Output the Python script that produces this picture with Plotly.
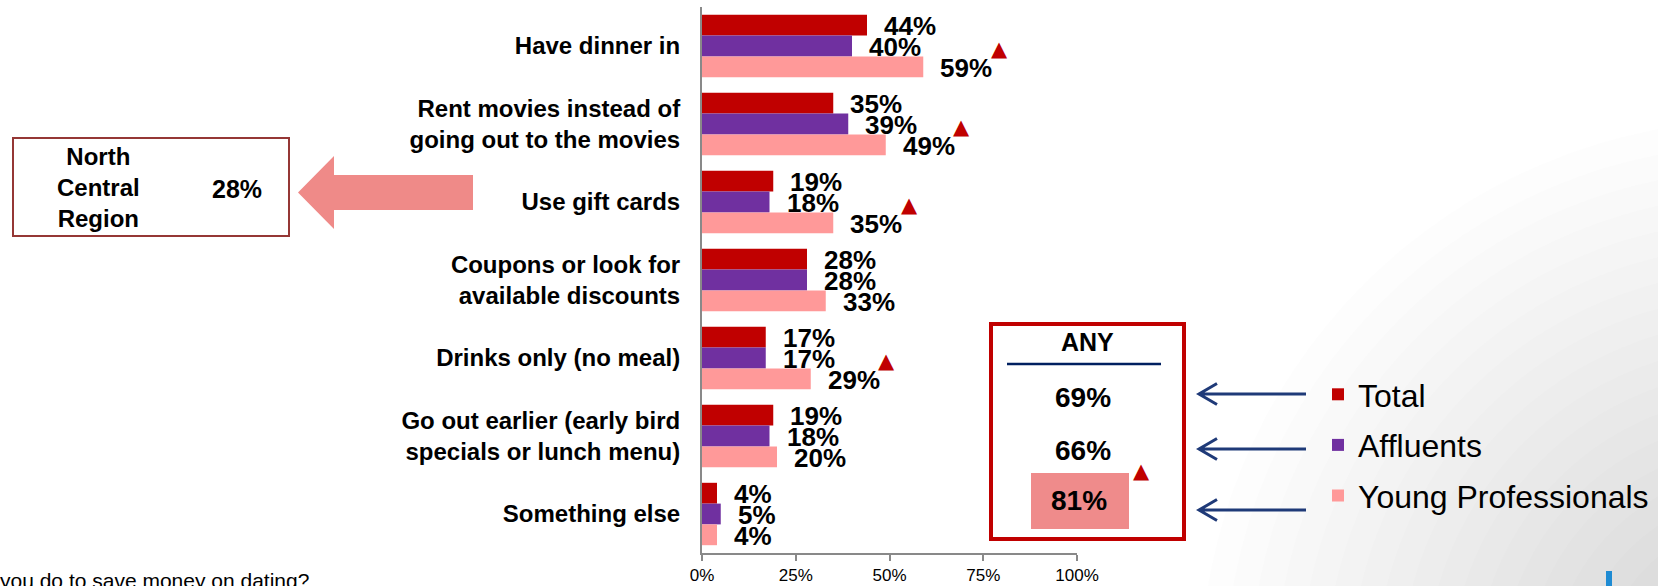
import plotly.graph_objects as go

# ---------------- data ----------------
categories = [
    "Have dinner in",
    "Rent movies instead of<br>going out to the movies",
    "Use gift cards",
    "Coupons or look for<br>available discounts",
    "Drinks only (no meal)",
    "Go out earlier (early bird<br>specials or lunch menu)",
    "Something else",
]
series_names = ["Total", "Affluents", "Young Professionals"]
total = [44, 35, 19, 28, 17, 19, 4]
affluents = [40, 39, 18, 28, 17, 18, 5]
young_prof = [59, 49, 35, 33, 29, 20, 4]
yp_significant = [True, True, True, False, True, False, False]

any_title = "ANY"
any_values = [69, 66, 81]
any_significant = [False, False, True]

region_label = "North<br>Central<br>Region"
region_value = 28

x_ticks = [0, 25, 50, 75, 100]
x_tick_labels = ["0%", "25%", "50%", "75%", "100%"]
footnote = "you do to save money on dating?"

colors = ["#C00000", "#7030A0", "#FF9999"]

# ---------------- layout geometry ----------------
W, H = 1658, 586
L, R, T, B = 702, 1077, 7, 553
BARGAP = 0.2
FONT = "Liberation Sans, Arial, sans-serif"


def px(x):
    return (x - L) / (R - L)


def py(y):
    return (B - y) / (B - T)


series = [total, affluents, young_prof]
fig = go.Figure()
for name, vals, col in zip(series_names, series, colors):
    fig.add_trace(go.Bar(
        y=categories, x=vals, name=name, orientation="h",
        marker=dict(color=col, line=dict(width=0)),
        legendgroup=name, hoverinfo="skip",
    ))

annotations = []
shapes = []

# data labels
cat_px = (B - T) / len(categories)
bar_px = cat_px * (1 - BARGAP) / len(series)
for i, vals in enumerate(series):
    for j, v in enumerate(vals):
        annotations.append(dict(
            x=v, y=categories[j], xref="x", yref="y", text=f"{v}%",
            showarrow=False, xanchor="left", yanchor="middle",
            xshift=15, yshift=(1 - i) * bar_px - 1,
            font=dict(family=FONT, size=26, color="#000000", weight="bold"),
        ))

# significance triangles
for j, (v, s) in enumerate(zip(young_prof, yp_significant)):
    if s:
        annotations.append(dict(
            x=v, y=categories[j], xref="x", yref="y", text="▲",
            showarrow=False, xanchor="center", yanchor="middle",
            xshift=76, yshift=-3,
            font=dict(family="DejaVu Sans", size=21, color="#C00000"),
        ))

# ---------- North Central Region callout ----------
shapes.append(dict(type="rect", xref="paper", yref="paper",
                   x0=px(13), x1=px(289), y0=py(236), y1=py(138),
                   line=dict(color="#953735", width=2), fillcolor="rgba(0,0,0,0)"))
annotations.append(dict(x=px(98), y=py(187), xref="paper", yref="paper",
                        text=region_label, showarrow=False, align="center",
                        xanchor="center", yanchor="middle",
                        font=dict(family=FONT, size=24, color="#000", weight="bold")))
annotations.append(dict(x=px(237), y=py(189), xref="paper", yref="paper",
                        text=f"{region_value}%", showarrow=False,
                        xanchor="center", yanchor="middle",
                        font=dict(family=FONT, size=25, color="#000", weight="bold")))
arrow_pts = [(298, 192.5), (334, 156), (334, 175), (473, 175),
             (473, 210), (334, 210), (334, 229)]
path = "M" + " L".join(f"{px(x):.5f},{py(y):.5f}" for x, y in arrow_pts) + " Z"
shapes.append(dict(type="path", xref="paper", yref="paper", path=path,
                   fillcolor="#EF8A88", line=dict(width=0)))

# ---------- ANY box ----------
shapes.append(dict(type="rect", xref="paper", yref="paper",
                   x0=px(991), x1=px(1184), y0=py(539), y1=py(324),
                   line=dict(color="#C00000", width=4), fillcolor="rgba(0,0,0,0)"))
shapes.append(dict(type="line", xref="paper", yref="paper",
                   x0=px(1007), x1=px(1161), y0=py(364), y1=py(364),
                   line=dict(color="#002060", width=2.5)))
shapes.append(dict(type="rect", xref="paper", yref="paper",
                   x0=px(1031), x1=px(1129), y0=py(529), y1=py(473),
                   fillcolor="#EF8B8B", line=dict(width=0)))
annotations.append(dict(x=px(1087), y=py(342), xref="paper", yref="paper",
                        text=any_title, showarrow=False,
                        xanchor="center", yanchor="middle",
                        font=dict(family=FONT, size=25, color="#000", weight="bold")))
any_y = [397, 450, 500]
any_x = [1083, 1083, 1079]
for v, yy, xx, s in zip(any_values, any_y, any_x, any_significant):
    annotations.append(dict(x=px(xx), y=py(yy), xref="paper", yref="paper",
                            text=f"{v}%", showarrow=False,
                            xanchor="center", yanchor="middle",
                            font=dict(family=FONT, size=28, color="#000", weight="bold")))
    if s:
        annotations.append(dict(x=px(1141), y=py(yy - 29), xref="paper", yref="paper",
                                text="▲", showarrow=False,
                                xanchor="center", yanchor="middle",
                                font=dict(family="DejaVu Sans", size=21, color="#C00000")))

# navy arrows pointing to the ANY values
for yy in [394, 449, 510]:
    p = (f"M{px(1306):.5f},{py(yy):.5f} L{px(1199):.5f},{py(yy):.5f} "
         f"M{px(1217):.5f},{py(yy - 10.5):.5f} L{px(1199):.5f},{py(yy):.5f} "
         f"L{px(1217):.5f},{py(yy + 10.5):.5f}")
    shapes.append(dict(type="path", xref="paper", yref="paper", path=p,
                       line=dict(color="#1F3A78", width=3)))

# ---------- decorative background (soft grey gradient) ----------
cx, cy = 1760, 680
for k in range(18):
    r = 560 - 25 * k
    shapes.append(dict(type="circle", xref="paper", yref="paper", layer="below",
                       x0=px(cx - r), x1=px(cx + r), y0=py(cy + r), y1=py(cy - r),
                       fillcolor="#8C9096", opacity=0.018, line=dict(width=0)))
shapes.append(dict(type="rect", xref="paper", yref="paper", layer="above",
                   x0=px(1606), x1=px(1612), y0=py(590), y1=py(571),
                   fillcolor="#1E8BD3", line=dict(width=0)))

# footnote (clipped at bottom, as in the source slide)
annotations.append(dict(x=px(-2), y=py(580), xref="paper", yref="paper",
                        text=footnote, showarrow=False,
                        xanchor="left", yanchor="middle",
                        font=dict(family=FONT, size=21, color="#000")))

fig.update_layout(
    width=W, height=H,
    margin=dict(l=L, r=W - R, t=T, b=H - B, pad=0, autoexpand=False),
    barmode="group", bargap=BARGAP, bargroupgap=0,
    paper_bgcolor="white", plot_bgcolor="rgba(0,0,0,0)",
    font=dict(family=FONT, color="#000"),
    showlegend=True,
    legend=dict(
        x=px(1318), y=py(367), xanchor="left", yanchor="top",
        font=dict(family=FONT, size=32, color="#000"),
        bgcolor="rgba(0,0,0,0)", traceorder="grouped",
        tracegroupgap=6, itemclick=False, itemdoubleclick=False,
    ),
    xaxis=dict(
        range=[0, 100], tickvals=x_ticks, ticktext=x_tick_labels,
        showgrid=False, zeroline=False, automargin=False,
        showline=True, linecolor="#898989", linewidth=2,
        ticks="outside", ticklen=6, tickwidth=2, tickcolor="#898989",
        ticklabelstandoff=0,
        tickfont=dict(family=FONT, size=17, color="#000"),
    ),
    yaxis=dict(
        autorange="reversed", showgrid=False, zeroline=False, automargin=False,
        showline=True, linecolor="#898989", linewidth=2,
        ticks="", ticklabelstandoff=15,
        tickfont=dict(family=FONT, size=24, color="#000", weight="bold"),
    ),
    annotations=annotations, shapes=shapes,
)

fig.write_html("out.html")
